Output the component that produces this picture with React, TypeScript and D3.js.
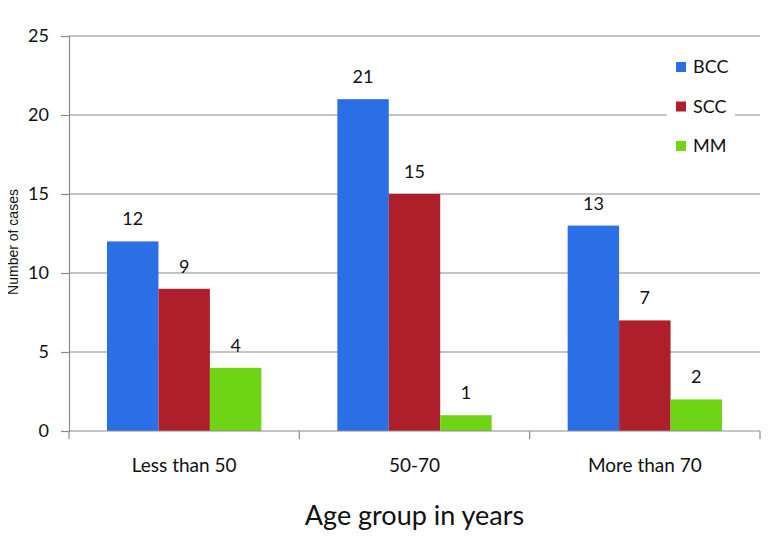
import { useEffect, useRef } from "react"
import * as d3 from "d3"

const categories = ["Less than 50", "50-70", "More than 70"]
const seriesNames = ["BCC", "SCC", "MM"]
const bccValues = [12, 21, 13]
const sccValues = [9, 15, 7]
const mmValues = [4, 1, 2]
const yTicks = [0, 5, 10, 15, 20, 25]
const colors = ["#2B6FE6", "#AE1E2B", "#6FD414"]

const App = () => {
  const svgRef = useRef<SVGSVGElement | null>(null)

  useEffect(() => {
    if (!svgRef.current) return
    const svg = d3.select(svgRef.current)
    svg.selectAll("*").remove()

    const width = 782
    const height = 550
    const margin = { top: 36, right: 22, bottom: 119, left: 69 }
    const innerWidth = width - margin.left - margin.right
    const innerHeight = height - margin.top - margin.bottom
    const font = "Lato, 'Open Sans', sans-serif"

    const series = [bccValues, sccValues, mmValues]

    const x0 = d3.scaleBand().domain(categories).range([0, innerWidth])
    const x1 = d3
      .scaleBand()
      .domain(seriesNames)
      .range([x0.bandwidth() * 0.165, x0.bandwidth() * 0.835])
    const y = d3.scaleLinear().domain([0, 25]).range([innerHeight, 0])

    const g = svg.append("g").attr("transform", `translate(${margin.left},${margin.top})`)

    // grid lines
    g.append("g")
      .selectAll("line")
      .data(yTicks.filter((t) => t > 0))
      .join("line")
      .attr("x1", 0)
      .attr("x2", innerWidth)
      .attr("y1", (d) => y(d))
      .attr("y2", (d) => y(d))
      .attr("stroke", "#8a8a8a")
      .attr("stroke-width", 1.2)

    // bars + value labels
    categories.forEach((cat, ci) => {
      seriesNames.forEach((s, si) => {
        const v = series[si][ci]
        const bx = x0(cat)! + x1(s)!
        g.append("rect")
          .attr("x", bx)
          .attr("y", y(v))
          .attr("width", x1.bandwidth())
          .attr("height", innerHeight - y(v))
          .attr("fill", colors[si])
        g.append("text")
          .attr("x", bx + x1.bandwidth() / 2)
          .attr("y", y(v) - 16)
          .attr("text-anchor", "middle")
          .style("font-family", font)
          .style("font-size", "18px")
          .attr("fill", "#111")
          .text(v)
      })
    })

    // y axis
    const yAxis = g
      .append("g")
      .call(d3.axisLeft(y).tickValues(yTicks).tickSize(8).tickPadding(12).tickFormat(d3.format("d")))
    yAxis.select(".domain").attr("stroke", "#8a8a8a").attr("stroke-width", 1.2)
    yAxis.selectAll(".tick line").attr("stroke", "#8a8a8a").attr("stroke-width", 1.2)
    yAxis
      .selectAll(".tick text")
      .style("font-family", font)
      .style("font-size", "18px")
      .attr("fill", "#111")

    // x axis
    const xAxis = g.append("g").attr("transform", `translate(0,${innerHeight})`)
    xAxis
      .append("line")
      .attr("x1", 0)
      .attr("x2", innerWidth)
      .attr("stroke", "#8a8a8a")
      .attr("stroke-width", 1.2)
    xAxis
      .selectAll(".xtick")
      .data([0, 1, 2, 3])
      .join("line")
      .attr("x1", (d) => d * x0.step())
      .attr("x2", (d) => d * x0.step())
      .attr("y1", 0)
      .attr("y2", 8)
      .attr("stroke", "#8a8a8a")
      .attr("stroke-width", 1.2)
    xAxis
      .selectAll(".xlabel")
      .data(categories)
      .join("text")
      .attr("x", (d) => x0(d)! + x0.bandwidth() / 2)
      .attr("y", 41)
      .attr("text-anchor", "middle")
      .style("font-family", font)
      .style("font-size", "19px")
      .attr("fill", "#111")
      .text((d) => d)

    // axis titles
    svg
      .append("text")
      .attr("x", margin.left + innerWidth / 2)
      .attr("y", 525)
      .attr("text-anchor", "middle")
      .style("font-family", font)
      .style("font-size", "27px")
      .attr("fill", "#111")
      .text("Age group in years")

    svg
      .append("text")
      .attr("transform", `translate(18,242) rotate(-90)`)
      .attr("text-anchor", "middle")
      .style("font-family", "Arial, 'Liberation Sans', sans-serif")
      .style("font-size", "14px")
      .attr("fill", "#111")
      .text("Number of cases")

    // legend
    const legend = svg.append("g").attr("transform", "translate(667,48)")
    legend.append("rect").attr("width", 68).attr("height", 122).attr("fill", "white")
    seriesNames.forEach((s, i) => {
      const row = legend.append("g").attr("transform", `translate(9, ${14 + i * 39.5})`)
      row.append("rect").attr("width", 10).attr("height", 10).attr("fill", colors[i])
      row
        .append("text")
        .attr("x", 17)
        .attr("y", 11)
        .style("font-family", font)
        .style("font-size", "18px")
        .attr("fill", "#111")
        .text(s)
    })
  }, [])

  return (
    <div style={{ width: 782, height: 550, margin: -8 }}>
      <svg ref={svgRef} width={782} height={550} style={{ display: "block" }} />
    </div>
  )
}

export default App
